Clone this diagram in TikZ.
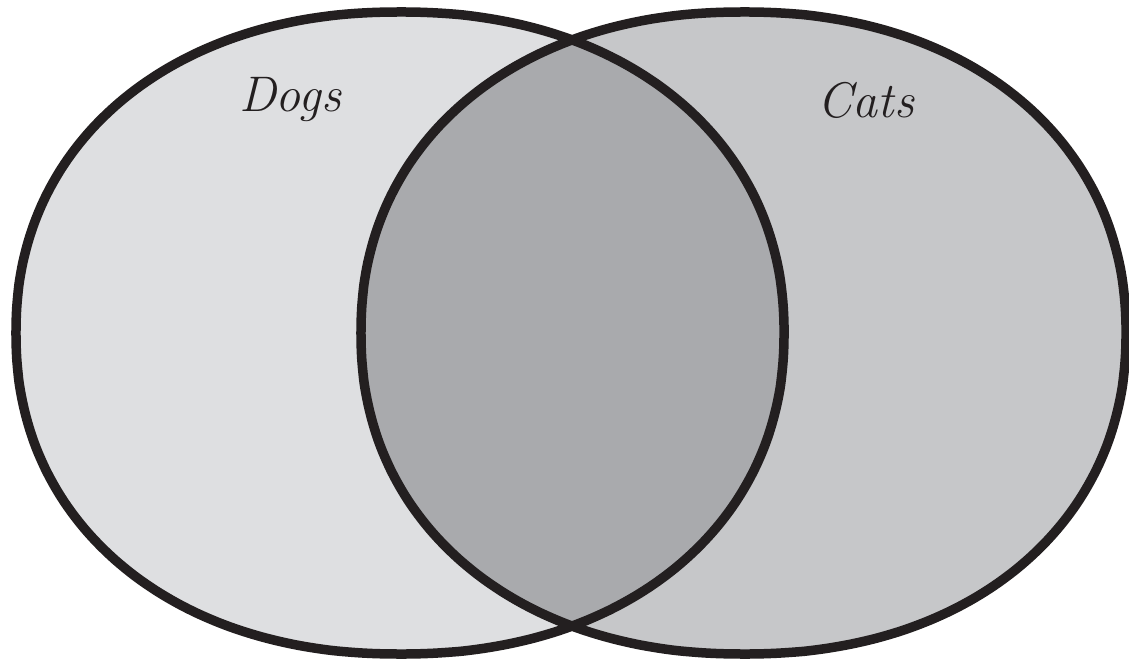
\documentclass[tikz,border=0pt]{standalone}
\usepackage{xcolor}
\usepackage{tikz}
\definecolor{ink}{HTML}{231F20}
\definecolor{dogfill}{HTML}{DEDFE1}
\definecolor{catfill}{HTML}{C6C7C9}
\definecolor{both}{HTML}{A9AAAD}
% slightly squarish oval: centre x, centre y, x radius, y radius
\newcommand\setoval[4]{plot[domain=0.9:360.9,samples=200,smooth]
  ({#1+#3*sign(cos(\x))*abs(cos(\x))^(0.93)},{#2+#4*sign(sin(\x))*abs(sin(\x))^(0.93)}) -- cycle}

\begin{document}
\begin{tikzpicture}[x=1pt,y=-1pt,
    ring/.style={draw=ink,line width=9.5pt},
    setname/.style={font=\fontsize{50}{54}\selectfont\itshape,text=ink}]
    \useasboundingbox (0,0) rectangle (1129,660);
    % the two sets
    \fill[dogfill] \setoval{400}{333}{384}{321};
    \fill[catfill] \setoval{743.5}{333}{382.5}{321};
    \begin{scope}
      \clip \setoval{400}{333}{384}{321};
      \fill[both] \setoval{743.5}{333}{382.5}{321};
    \end{scope}
    \draw[ring] \setoval{400}{333}{384}{321};
    \draw[ring] \setoval{743.5}{333}{382.5}{321};
    \node[setname] (dogs) at (290,100) {Dogs};
    \node[setname] (cats) at (866,100) {Cats};
\end{tikzpicture}
\end{document}
